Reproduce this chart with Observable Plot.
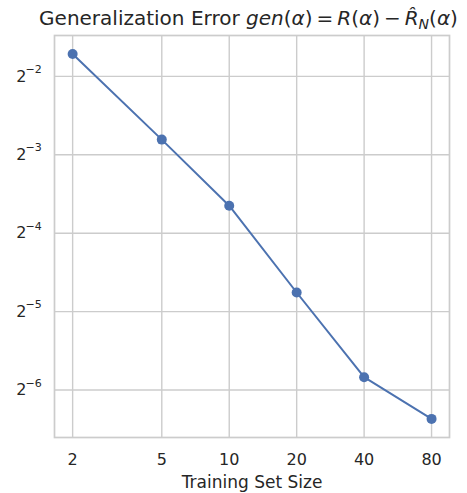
<!DOCTYPE html>
<html>
<head>
<meta charset="utf-8">
<script src="https://cdn.jsdelivr.net/npm/d3@7"></script>
<script src="https://cdn.jsdelivr.net/npm/@observablehq/plot@0.6"></script>
<style>
  html, body { margin: 0; padding: 0; background: #fff; }
  body { width: 467px; height: 493px; overflow: hidden; font-family: "DejaVu Sans", sans-serif; }
  #title { height: 30px; line-height: 36px; font-size: 20px; color: #262626; text-align: center; padding-left: 30px; white-space: nowrap; }
  #title i { font-style: italic; }
  #title sub { font-size: 14px; vertical-align: -4px; line-height: 0; }
</style>
</head>
<body>
<div id="title">Generalization Error <i>gen</i>(<i>α</i>)&thinsp;=&thinsp;<i>R</i>(<i>α</i>)&thinsp;−&thinsp;<i>R̂</i><sub><i>N</i></sub>(<i>α</i>)</div>
<div id="chart"></div>
<script>
const trainingSizes = [2, 5, 10, 20, 40, 80];
const genError = [0.305, 0.143, 0.0797, 0.0370, 0.0175, 0.0121];
const xTicks = [2, 5, 10, 20, 40, 80];
const yTickExponents = [-2, -3, -4, -5, -6];

const data = trainingSizes.map((n, i) => ({n, err: genError[i]}));
const yTicks = yTickExponents.map(e => ({e, v: Math.pow(2, e)}));

const chart = Plot.plot({
  width: 467,
  height: 463,
  marginTop: 5,
  marginBottom: 56,
  marginLeft: 54,
  marginRight: 18,
  style: {fontFamily: "DejaVu Sans, sans-serif", color: "#262626", background: "#fff"},
  x: {type: "log", domain: [1.66, 96.2], axis: null},
  y: {type: "log", base: 2, domain: [Math.pow(2, -6.606), Math.pow(2, -1.478)], axis: null},
  marks: [
    Plot.gridX(xTicks, {stroke: "#cccccc", strokeOpacity: 1, strokeWidth: 1.4}),
    Plot.gridY(yTicks.map(d => d.v), {stroke: "#cccccc", strokeOpacity: 1, strokeWidth: 1.4}),
    Plot.frame({stroke: "#cccccc", strokeWidth: 1.7}),
    // x tick labels
    Plot.text(xTicks, {x: d => d, frameAnchor: "bottom", dy: 22, lineAnchor: "middle", fontSize: 16, fill: "#262626", text: d => String(d)}),
    // y tick labels: base and exponent
    Plot.text(yTicks, {y: "v", frameAnchor: "left", dx: -28, textAnchor: "end", lineAnchor: "middle", fontSize: 16, fill: "#262626", text: () => "2"}),
    Plot.text(yTicks, {y: "v", frameAnchor: "left", dx: -29, dy: -7, textAnchor: "start", lineAnchor: "middle", fontSize: 11, fill: "#262626", text: d => "−" + Math.abs(d.e)}),
    Plot.text(["Training Set Size"], {frameAnchor: "bottom", dy: 45, fontSize: 17, fill: "#262626", lineAnchor: "middle"}),
    Plot.line(data, {x: "n", y: "err", stroke: "#4c72b0", strokeWidth: 2}),
    Plot.dot(data, {x: "n", y: "err", r: 5, fill: "#4c72b0", stroke: "none"})
  ]
});
document.getElementById("chart").appendChild(chart);
</script>
</body>
</html>
